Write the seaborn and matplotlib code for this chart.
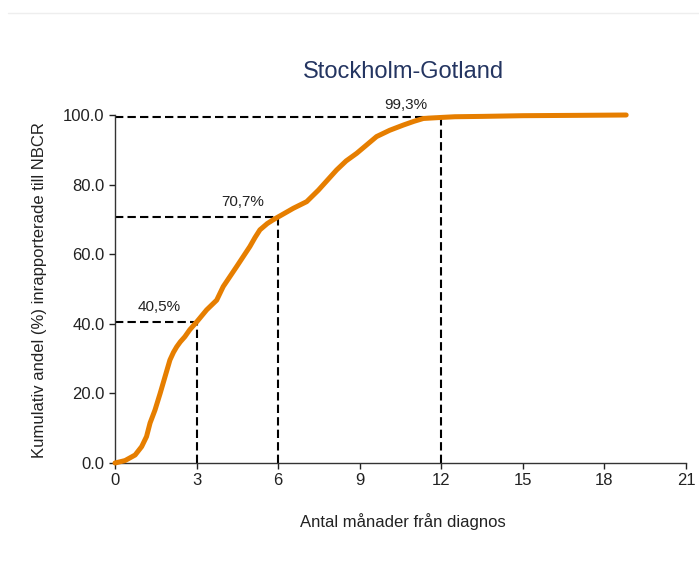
import matplotlib
matplotlib.use("Agg")
import matplotlib.pyplot as plt
import seaborn as sns
import pandas as pd
from matplotlib.lines import Line2D

# cumulative share reported to NBCR
months = [0, 0.37, 0.74, 0.98, 1.16, 1.29, 1.47, 1.66, 1.84, 2.02, 2.15, 2.27,
          2.4, 2.57, 2.75, 3.0, 3.37, 3.74, 3.98, 4.47, 4.96, 5.15, 5.33, 5.6,
          5.8, 6.0, 6.56, 7.05, 7.48, 8.15, 8.5, 8.89, 9.62, 10.1, 10.6, 11.0,
          11.34, 12.0, 12.5, 13.5, 15.0, 17.0, 18.8]
pct = [0, 0.7, 2.3, 4.7, 7.6, 11.5, 15.2, 20.0, 24.8, 29.6, 31.8, 33.4,
       34.8, 36.3, 38.3, 40.5, 44.0, 46.8, 50.7, 56.4, 62.2, 64.8, 67.0, 68.8,
       69.8, 70.7, 73.2, 75.1, 78.4, 84.2, 86.8, 89.0, 93.8, 95.6, 97.1, 98.2,
       99.0, 99.3, 99.5, 99.6, 99.8, 99.9, 100.0]

ref_months = [3, 6, 12]
ref_pct = [40.5, 70.7, 99.3]
ref_labels = ["40,5%", "70,7%", "99,3%"]
label_pos = [(1.64, 44.8), (4.69, 75.1), (10.7, 102.9)]

x_ticks = [0, 3, 6, 9, 12, 15, 18, 21]
y_ticks = [0, 20, 40, 60, 80, 100]

sns.set_style("ticks")
plt.rcParams["font.family"] = ["Liberation Sans", "DejaVu Sans"]

fig = plt.figure(figsize=(6.99, 5.65), dpi=100)
ax = fig.add_axes([115 / 699, 102 / 565, 571 / 699, 348 / 565])

df = pd.DataFrame({"month": months, "pct": pct})

# dashed reference lines
for m, p in zip(ref_months, ref_pct):
    ax.plot([0, m], [p, p], color="black", lw=1.5, ls=(0, (4, 2)), clip_on=False, zorder=2)
    ax.plot([m, m], [0, p], color="black", lw=1.5, ls=(0, (4, 2)), clip_on=False, zorder=2)

sns.lineplot(data=df, x="month", y="pct", ax=ax, color="#E67E00", lw=3.6,
             clip_on=False, zorder=3)

for (lx, ly), txt in zip(label_pos, ref_labels):
    ax.text(lx, ly, txt, ha="center", va="center", fontsize=11, color="#222222")

ax.set_xlim(0, 21)
ax.set_ylim(0, 100)
ax.set_xticks(x_ticks)
ax.set_yticks(y_ticks)
ax.set_yticklabels([f"{v:.1f}" for v in y_ticks])
ax.tick_params(labelsize=12, length=4, width=1, colors="#222222")
ax.set_xlabel("")
ax.set_ylabel("")
sns.despine(ax=ax)
for s in ["left", "bottom"]:
    ax.spines[s].set_color("#333333")
    ax.spines[s].set_linewidth(1)

fig.text(403 / 699, 1 - 72 / 565, "Stockholm-Gotland", ha="center", va="center",
         fontsize=17, color="#243561")
fig.text(403 / 699, 1 - 522 / 565, "Antal månader från diagnos", ha="center",
         va="center", fontsize=12, color="#222222")
fig.text(40 / 699, 1 - 290 / 565, "Kumulativ andel (%) inrapporterade till NBCR",
         ha="center", va="center", rotation=90, fontsize=12, color="#222222")

# faint line at the very top
fig.add_artist(Line2D([8 / 699, 1], [1 - 13 / 565, 1 - 13 / 565],
                      transform=fig.transFigure, color="#EEEEEE", lw=1))

fig.savefig("out.png", dpi=100)
